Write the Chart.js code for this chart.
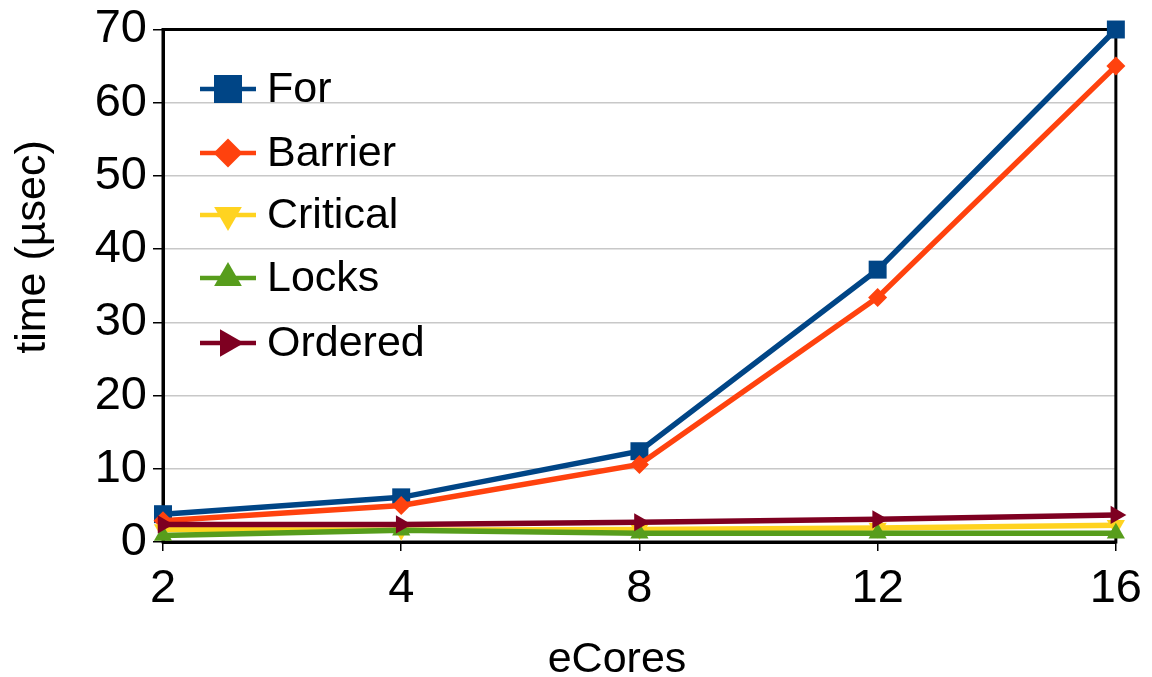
<!DOCTYPE html>
<html>
<head>
<meta charset="utf-8">
<script src="https://cdn.jsdelivr.net/npm/chart.js@4/dist/chart.umd.min.js"></script>
<style>
  html, body { margin: 0; padding: 0; background: #ffffff; }
  #wrap { width: 1152px; height: 677px; position: relative; }
</style>
</head>
<body>
<div id="wrap"><canvas id="timeChart"></canvas></div>
<script>
// data
const cores = ['2', '4', '8', '12', '16'];
const forTimes = [3.8, 6.1, 12.4, 37.2, 70.0];
const barrierTimes = [2.9, 5.0, 10.6, 33.4, 65.0];
const criticalTimes = [1.7, 1.6, 1.7, 1.9, 2.3];
const locksTimes = [0.9, 1.6, 1.2, 1.2, 1.2];
const orderedTimes = [2.4, 2.4, 2.7, 3.1, 3.7];
const yTicks = [0, 10, 20, 30, 40, 50, 60, 70];
const xTitle = 'eCores';
const yTitle = 'time (µsec)';

const FONT = '"Liberation Sans", Arial, sans-serif';

const series = [
    { label: 'For', data: forTimes, color: '#004586', style: 'rect', rot: 0, r: 12.7, lr: 19.8 },
    { label: 'Barrier', data: barrierTimes, color: '#ff420e', style: 'rectRot', rot: 0, r: 9.5, lr: 14.5 },
    { label: 'Critical', data: criticalTimes, color: '#ffd320', style: 'triangle', rot: 180, r: 10.5, lr: 16 },
    { label: 'Locks', data: locksTimes, color: '#579d1c', style: 'triangle', rot: 0, r: 10.5, lr: 16 },
    { label: 'Ordered', data: orderedTimes, color: '#7e0021', style: 'triangle', rot: 90, r: 10.5, lr: 16 }
];

// legend drawn inside the plot area, like the original
const insideLegend = {
    id: 'insideLegend',
    afterDatasetsDraw(chart) {
        const ctx = chart.ctx;
        const rows = [89, 153, 215, 278, 343];
        ctx.save();
        series.forEach((s, i) => {
            const y = rows[i];
            ctx.strokeStyle = s.color;
            ctx.fillStyle = s.color;
            ctx.lineWidth = 4.5;
            ctx.beginPath();
            ctx.moveTo(200, y);
            ctx.lineTo(256, y);
            ctx.stroke();
            Chart.helpers.drawPoint(ctx, {
                pointStyle: s.style, radius: s.lr, rotation: s.rot, borderWidth: 0
            }, 228, y);
            ctx.fillStyle = '#000000';
            ctx.font = '43px ' + FONT;
            ctx.textBaseline = 'middle';
            ctx.textAlign = 'left';
            ctx.fillText(s.label, 267, y + 1);
        });
        ctx.restore();
    }
};

// frame round the plot area
const plotFrame = {
    id: 'plotFrame',
    beforeDatasetsDraw(chart) {
        const a = chart.chartArea;
        const ctx = chart.ctx;
        ctx.save();
        ctx.strokeStyle = '#000000';
        ctx.lineWidth = 3;
        ctx.strokeRect(a.left, a.top, a.right - a.left, a.bottom - a.top);
        ctx.restore();
    }
};

// axis titles, placed where the original has them (not centred on the plot)
const axisTitles = {
    id: 'axisTitles',
    afterDraw(chart) {
        const ctx = chart.ctx;
        ctx.save();
        ctx.fillStyle = '#000000';
        ctx.font = '43px ' + FONT;
        ctx.textAlign = 'center';
        ctx.textBaseline = 'alphabetic';
        ctx.fillText(xTitle, 617, 672);
        ctx.translate(45, 247);
        ctx.rotate(-Math.PI / 2);
        ctx.fillText(yTitle, 0, 0);
        ctx.restore();
    }
};

const chart = new Chart(document.getElementById('timeChart'), {
    type: 'line',
    data: {
        labels: cores,
        datasets: series.map((s, i) => ({
            label: s.label,
            data: s.data,
            borderColor: s.color,
            backgroundColor: s.color,
            borderWidth: 5.5,
            pointStyle: s.style,
            pointRotation: s.rot,
            pointRadius: s.r,
            pointBorderWidth: 0,
            pointBackgroundColor: s.color,
            tension: 0,
            clip: false,
            order: series.length - i
        }))
    },
    options: {
        responsive: true,
        maintainAspectRatio: false,
        animation: false,
        layout: {
            padding: { top: 29, right: 34, left: 0, bottom: 0 }
        },
        plugins: {
            legend: { display: false },
            tooltip: { enabled: false }
        },
        scales: {
            x: {
                type: 'category',
                offset: false,
                grid: {
                    drawOnChartArea: false,
                    drawTicks: true,
                    tickLength: 9,
                    color: '#000000',
                    lineWidth: 1.5
                },
                border: { display: true, color: '#000000', width: 3 },
                ticks: {
                    color: '#000000',
                    padding: 10,
                    font: { family: FONT, size: 47 },
                    maxRotation: 0
                },
                afterFit(scale) { scale.height = 135; }
            },
            y: {
                min: 0,
                max: 70,
                afterBuildTicks(scale) {
                    scale.ticks = yTicks.map(v => ({ value: v }));
                },
                grid: {
                    color: '#c8c8c8',
                    lineWidth: 1.5,
                    drawTicks: true,
                    tickLength: 10,
                    tickColor: '#000000'
                },
                border: { display: true, color: '#000000', width: 3 },
                ticks: {
                    color: '#000000',
                    padding: 6,
                    font: { family: FONT, size: 47, lineHeight: 1 }
                },
                afterFit(scale) { scale.width = 163; }
            }
        }
    },
    plugins: [plotFrame, insideLegend, axisTitles]
});
</script>
</body>
</html>
